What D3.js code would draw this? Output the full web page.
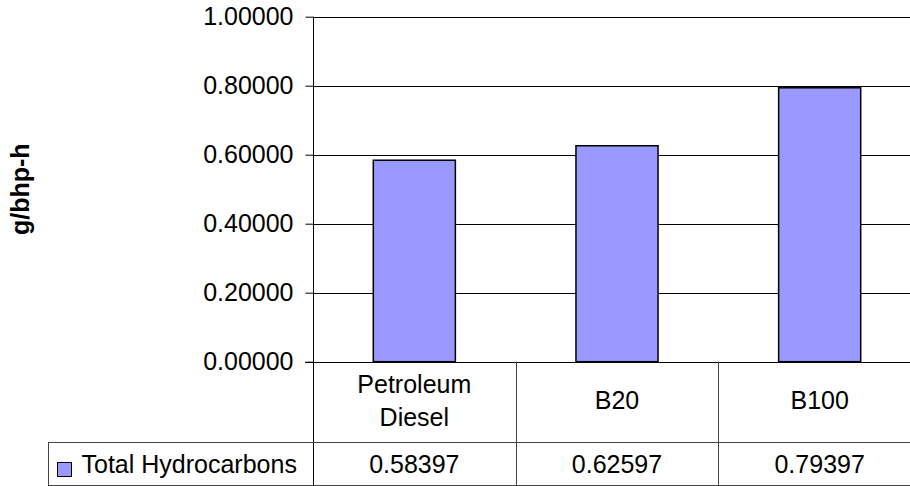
<!DOCTYPE html>
<html><head><meta charset="utf-8">
<script src="https://cdn.jsdelivr.net/npm/d3@7"></script>
<style>
html,body{margin:0;padding:0;background:#fff;overflow:hidden;}
text{font-family:"Liberation Sans",Arial,sans-serif;fill:#000;}
</style></head>
<body>
<svg id="chart" width="910" height="486"></svg>
<script>
const categories = [["Petroleum","Diesel"],["B20"],["B100"]];
const seriesName = "Total Hydrocarbons";
const values = [0.58397, 0.62597, 0.79397];
const valueLabels = ["0.58397","0.62597","0.79397"];
const yTicks = [0, 0.2, 0.4, 0.6, 0.8, 1.0];
const yTitle = "g/bhp-h";

(function () {
const svg = d3.select("#chart");
const fs = 25;
const pLeft = 313, pRight = 921, pTop = 16.7, pBottom = 361.7;
const rowLine = 441.7, tableBottom = 485, tableLeft = 48.5;

const x = d3.scaleBand().domain(d3.range(categories.length)).range([pLeft, pRight]).paddingInner(0).paddingOuter(0);
const y = d3.scaleLinear().domain([0, 1]).range([pBottom, pTop]);

// gridlines
svg.append("g").selectAll("line").data(yTicks.filter(d => d > 0)).join("line")
  .attr("x1", pLeft).attr("x2", pRight)
  .attr("y1", d => Math.round(y(d)) + 0.5).attr("y2", d => Math.round(y(d)) + 0.5)
  .attr("stroke", "#000").attr("stroke-width", 1);

// bars
const bw = x.bandwidth() * 0.405;
svg.append("g").selectAll("rect").data(values).join("rect")
  .attr("x", (d, i) => x(i) + (x.bandwidth() - bw) / 2)
  .attr("y", d => y(d))
  .attr("width", bw)
  .attr("height", d => y(0) - y(d))
  .attr("fill", "#9999FF").attr("stroke", "#000").attr("stroke-width", 1.5);

// y axis
const yAxis = d3.axisLeft(y).tickValues(yTicks).tickFormat(d3.format(".5f")).tickSize(8).tickPadding(12);
const ga = svg.append("g").attr("transform", `translate(${pLeft + 0.5},0)`).call(yAxis);
ga.select(".domain").remove();
ga.selectAll(".tick line").attr("stroke", "#000");
ga.selectAll(".tick text").attr("font-size", fs).attr("font-family", '"Liberation Sans",Arial,sans-serif').attr("fill", "#000");
svg.append("line").attr("x1", pLeft + 0.5).attr("x2", pLeft + 0.5).attr("y1", pTop).attr("y2", tableBottom).attr("stroke", "#000");
// baseline
svg.append("line").attr("x1", pLeft - 8).attr("x2", pRight).attr("y1", Math.round(pBottom) + 0.5).attr("y2", Math.round(pBottom) + 0.5).attr("stroke", "#000");

// y title
svg.append("text").attr("transform", `translate(29,${(pTop + pBottom) / 2}) rotate(-90)`)
  .attr("text-anchor", "middle").attr("font-size", fs).attr("font-weight", "bold").text(yTitle);

// table lines
const tl = svg.append("g").attr("stroke", "#444").attr("stroke-width", 1);
tl.append("line").attr("x1", tableLeft).attr("x2", pRight).attr("y1", Math.round(rowLine) + 0.5).attr("y2", Math.round(rowLine) + 0.5);
tl.append("line").attr("x1", tableLeft).attr("x2", pRight).attr("y1", tableBottom + 0.5).attr("y2", tableBottom + 0.5);
tl.append("line").attr("x1", tableLeft).attr("x2", tableLeft).attr("y1", Math.round(rowLine)).attr("y2", tableBottom + 1);
tl.selectAll("line.div").data(d3.range(1, categories.length)).join("line").attr("class", "div")
  .attr("x1", i => Math.round(x(i)) + 0.5).attr("x2", i => Math.round(x(i)) + 0.5)
  .attr("y1", pBottom).attr("y2", tableBottom + 1);

// category labels
const catRowMid = 400.5;
const lineH = 33.4;
const cg = svg.append("g");
categories.forEach((lines, i) => {
  const cx = x(i) + x.bandwidth() / 2;
  const y0 = catRowMid - (lines.length - 1) * lineH / 2;
  lines.forEach((t, j) => {
    cg.append("text").attr("text-anchor", "middle").attr("font-size", fs)
      .attr("x", cx).attr("y", y0 + j * lineH).attr("dy", "0.35em").text(t);
  });
});

// value row
const valMid = (rowLine + tableBottom) / 2 + 1;
svg.append("g").selectAll("text").data(valueLabels).join("text")
  .attr("text-anchor", "middle").attr("font-size", fs)
  .attr("x", (d, i) => x(i) + x.bandwidth() / 2)
  .attr("y", valMid).attr("dy", "0.35em").text(d => d);

// legend key
svg.append("rect").attr("x", 57.5).attr("y", 462.5).attr("width", 14).attr("height", 14)
  .attr("fill", "#9999FF").attr("stroke", "#000").attr("stroke-width", 1);
svg.append("text").attr("x", 81.5).attr("y", valMid).attr("dy", "0.35em").attr("font-size", fs).text(seriesName);
})();
</script>
</body></html>
